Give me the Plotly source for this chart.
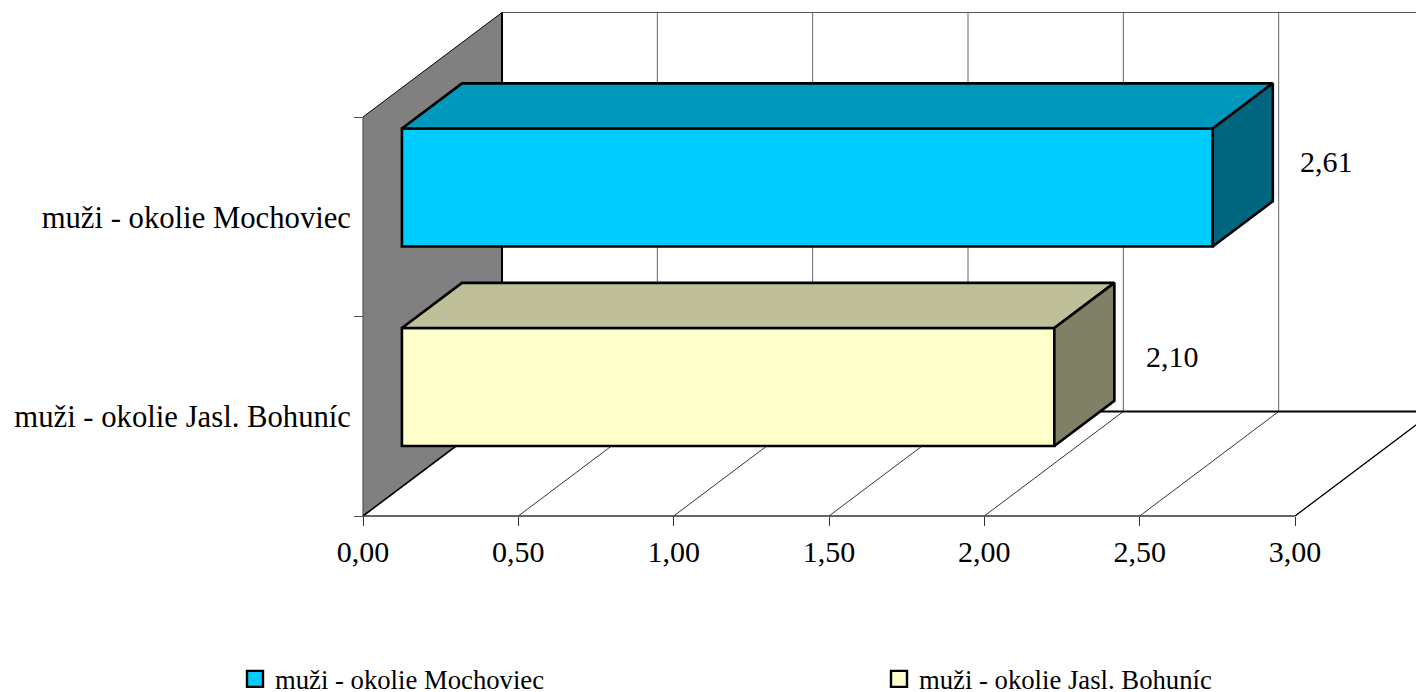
import plotly.graph_objects as go

# ---- data ----
categories = ["muži - okolie Jasl. Bohuníc", "muži - okolie Mochoviec"]
values = [2.10, 2.61]
x_ticks = [0, 0.5, 1.0, 1.5, 2.0, 2.5, 3.0]
x_tick_labels = ["0,00", "0,50", "1,00", "1,50", "2,00", "2,50", "3,00"]
front_colors = ["#FFFFCC", "#00CCFF"]
top_colors = ["#BFBF99", "#0099BD"]
side_colors = ["#808066", "#006680"]
label_shift_x = [157, 153]
label_shift_y = [60, 55]
legend_widths = [300, 599]

# ---- page / pseudo-3D geometry ----
W, H = 1416, 692
PX_X0, PX_Y0 = 363, 516          # pixel of value 0 / category edge 0
PX_PER_VALUE = 310.67
PX_PER_CAT = 199.5
DEPTH_X = 139 / PX_PER_VALUE     # full box depth in axis units
DEPTH_Y = 104.5 / PX_PER_CAT
BAR_D0, BAR_D1 = 0.28, 0.712     # bar front / back depth fraction
BAR_W = 0.5915
N = len(categories)
XMAX = max(x_ticks)
FONT = "Liberation Serif"
EDGE = 2.6


def px(v, d=0.0):
    return v + d * DEPTH_X


def py(c, d=0.0):
    return c + d * DEPTH_Y


def seg(x0, y0, x1, y1, color="#000000", width=1.0):
    return dict(type="line", xref="x", yref="y", layer="below",
                x0=x0, y0=y0, x1=x1, y1=y1, line=dict(color=color, width=width))


shapes = [
    dict(type="path", xref="x", yref="y", layer="below", line=dict(width=0),
         fillcolor="#808080",
         path=f"M{px(0)},{py(0)} L{px(0, 1)},{py(0, 1)} L{px(0, 1)},{py(N, 1)} L{px(0)},{py(N)} Z"),
]
for t in x_ticks[1:]:
    shapes.append(seg(px(t, 1), py(0, 1), px(t, 1), py(N, 1), "#666666", 1))
    shapes.append(seg(px(t), py(0), px(t, 1), py(0, 1), "#000000", 0.8))
shapes += [
    seg(px(0, 1), py(N, 1), px(XMAX + 1, 1), py(N, 1), "#555555", 1),
    seg(px(0, 1), py(0, 1), px(XMAX + 1, 1), py(0, 1), "#000000", 2),
    seg(px(0, 1), py(0, 1), px(0, 1), py(N, 1), "#000000", 2),
    seg(px(0), py(N), px(0, 1), py(N, 1), "#000000", 1),
    seg(px(0), py(0), px(0), py(N), "#555555", 1.2),
    seg(px(0), py(0), px(0, 1), py(0, 1), "#000000", 1.6),
    seg(px(0), py(0), px(XMAX), py(0), "#333333", 1.6),
    seg(px(XMAX), py(0), px(XMAX, 1), py(0, 1), "#000000", 1.2),
]

fig = go.Figure()

centers = [i + 0.5 for i in range(N)]

# front faces
for i in range(N):
    fig.add_trace(go.Bar(
        orientation="h", x=[values[i]], y=[py(centers[i], BAR_D0)],
        base=[px(0, BAR_D0)], width=BAR_W, showlegend=False,
        marker=dict(color=front_colors[i], line=dict(color="#000000", width=EDGE)),
        hoverinfo="skip"))

# top and side faces
for i in range(N):
    v = values[i]
    lo = centers[i] - BAR_W / 2
    hi = centers[i] + BAR_W / 2
    x_left = px(0, BAR_D0)
    top_x = [x_left, x_left + (BAR_D1 - BAR_D0) * DEPTH_X,
             x_left + v + (BAR_D1 - BAR_D0) * DEPTH_X, x_left + v, x_left]
    top_y = [py(hi, BAR_D0), py(hi, BAR_D1), py(hi, BAR_D1), py(hi, BAR_D0), py(hi, BAR_D0)]
    side_x = [x_left + v, x_left + v + (BAR_D1 - BAR_D0) * DEPTH_X,
              x_left + v + (BAR_D1 - BAR_D0) * DEPTH_X, x_left + v, x_left + v]
    side_y = [py(hi, BAR_D0), py(hi, BAR_D1), py(lo, BAR_D1), py(lo, BAR_D0), py(hi, BAR_D0)]
    for xs, ys, col in ((top_x, top_y, top_colors[i]), (side_x, side_y, side_colors[i])):
        fig.add_trace(go.Scatter(x=xs, y=ys, mode="lines", fill="toself", fillcolor=col,
                                 line=dict(color="#000000", width=EDGE),
                                 showlegend=False, hoverinfo="skip"))

# legend entries
for i in reversed(range(N)):
    fig.add_trace(go.Scatter(
        x=[None], y=[None], mode="markers", name=categories[i],
        legendwidth=legend_widths[i],
        marker=dict(symbol="square", size=16, color=front_colors[i],
                    line=dict(color="#000000", width=2.4))))

annotations = [
    dict(x=values[i], y=centers[i], xref="x", yref="y", showarrow=False,
         text=f"{values[i]:.2f}".replace(".", ","), xshift=label_shift_x[i],
         yshift=label_shift_y[i], font=dict(family=FONT, size=30, color="#000000"))
    for i in range(N)
]

fig.update_layout(
    width=W, height=H, margin=dict(l=0, r=0, t=0, b=0, autoexpand=False), autosize=False,
    paper_bgcolor="#FFFFFF", plot_bgcolor="#FFFFFF",
    font=dict(family=FONT, color="#000000"),
    shapes=shapes, annotations=annotations, barmode="overlay",
    xaxis=dict(range=[-PX_X0 / PX_PER_VALUE, (W - PX_X0) / PX_PER_VALUE],
               anchor="free", position=(H - PX_Y0) / H,
               tickmode="array", tickvals=x_ticks, ticktext=x_tick_labels,
               ticks="outside", ticklen=9, tickwidth=1, tickcolor="#333333",
               tickfont=dict(family=FONT, size=30), ticklabelstandoff=0,
               showgrid=False, zeroline=False, showline=False),
    yaxis=dict(range=[-(H - PX_Y0) / PX_PER_CAT, PX_Y0 / PX_PER_CAT],
               anchor="free", position=PX_X0 / W,
               tickmode="array", tickvals=centers, ticktext=categories,
               ticks="", tickfont=dict(family=FONT, size=30.7), ticklabelstandoff=12,
               minor=dict(tickmode="array", tickvals=list(range(N + 1)), ticks="outside",
                          ticklen=9, tickwidth=1, tickcolor="#555555", showgrid=False),
               showgrid=False, zeroline=False, showline=False),
    legend=dict(orientation="h", x=235 / W, xanchor="left", y=(H - 655) / H, yanchor="top",
                traceorder="normal", font=dict(family=FONT, size=26.7),
                bgcolor="rgba(0,0,0,0)", itemclick=False, itemdoubleclick=False),
)

fig.write_html("out.html", config={"displayModeBar": False},
               post_script="document.body.style.margin='0';document.body.style.overflow='hidden';")
